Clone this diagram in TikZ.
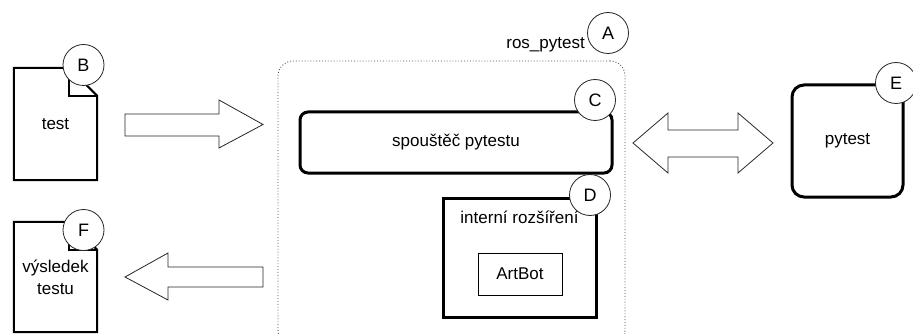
\documentclass[tikz,border=0pt]{standalone}
\usepackage{fontspec}
\setmainfont{Liberation Sans}

\begin{document}
\begin{tikzpicture}[x=1pt,y=-1pt,
		tag/.style={circle,draw=black!85,line width=0.8pt,fill=white,minimum size=41pt,inner sep=0pt,font=\fontsize{18}{20}\selectfont},
		thickbox/.style={draw,line width=3pt,inner sep=0pt,font=\fontsize{17}{22}\selectfont},
		docline/.style={line width=2pt,line join=miter},
		blockarrow/.style={draw=black!85,line width=0.8pt,fill=white,line join=miter},
		txt/.style={inner sep=1pt,font=\fontsize{17}{22}\selectfont,align=center}]
	\useasboundingbox (0,0) rectangle (913,334);

	% ros_pytest frame
	\node[draw=black!70,dotted,line width=0.9pt,rounded corners=15pt,minimum width=347pt,minimum height=284pt] (frmA) at (451.5,203) {};
	\node[txt,anchor=east] (lblA) at (586,45) {ros\_pytest};

	% documents
	\node[txt,minimum width=83pt,minimum height=112pt] (docB) at (55.5,124) {test};
	\draw[docline] (docB.south west) -- (docB.north west) -- ([xshift=-28pt]docB.north east) -- ([yshift=-28pt]docB.north east) -- (docB.south east) -- cycle;
	\draw[line width=1.5pt] ([xshift=-28pt]docB.north east) -- ([xshift=-28pt,yshift=-28pt]docB.north east) -- ([yshift=-28pt]docB.north east);

	\node[txt,minimum width=83pt,minimum height=110pt] (docF) at (55.5,277) {výsledek\\testu};
	\draw[docline] (docF.south west) -- (docF.north west) -- ([xshift=-28pt]docF.north east) -- ([yshift=-28pt]docF.north east) -- (docF.south east) -- cycle;
	\draw[line width=1.5pt] ([xshift=-28pt]docF.north east) -- ([xshift=-28pt,yshift=-28pt]docF.north east) -- ([yshift=-28pt]docF.north east);

	% boxes
	\node[thickbox,rounded corners=8pt,minimum width=312pt,minimum height=61pt] (runC) at (456,142.5) {spouštěč pytestu};
	\node[thickbox,minimum width=153pt,minimum height=119pt] (extD) at (519.5,257.5) {};
	\node[txt] (lblD) at (519.5,217) {interní rozšíření};
	\node[draw,line width=1pt,minimum width=84pt,minimum height=42pt,font=\fontsize{17}{22}\selectfont] (bot) at (520,274) {ArtBot};
	\node[thickbox,rounded corners=12pt,minimum width=111pt,minimum height=112pt] (pyE) at (847.5,141) {pytest};

	% block arrows
	\draw[blockarrow] (125,114) -- (219,114) -- (219,100) -- (263,124.5) -- (219,148) -- (219,136) -- (125,136) -- cycle;
	\draw[blockarrow] (263,267) -- (168,267) -- (168,253) -- (125,277) -- (168,300) -- (168,287) -- (263,287) -- cycle;
	\draw[blockarrow] (633,143) -- (668,113) -- (668,130) -- (738,130) -- (738,113) -- (773,143) -- (738,173) -- (738,157) -- (668,157) -- (668,173) -- cycle;

	% letter tags
	\node[tag] (tA) at (608,33) {A};
	\node[tag] (tB) at (83.5,65) {B};
	\node[tag] (tC) at (595,100) {C};
	\node[tag] (tD) at (590,195) {D};
	\node[tag] (tE) at (896,83) {E};
	\node[tag] (tF) at (83.5,230) {F};
\end{tikzpicture}
\end{document}
